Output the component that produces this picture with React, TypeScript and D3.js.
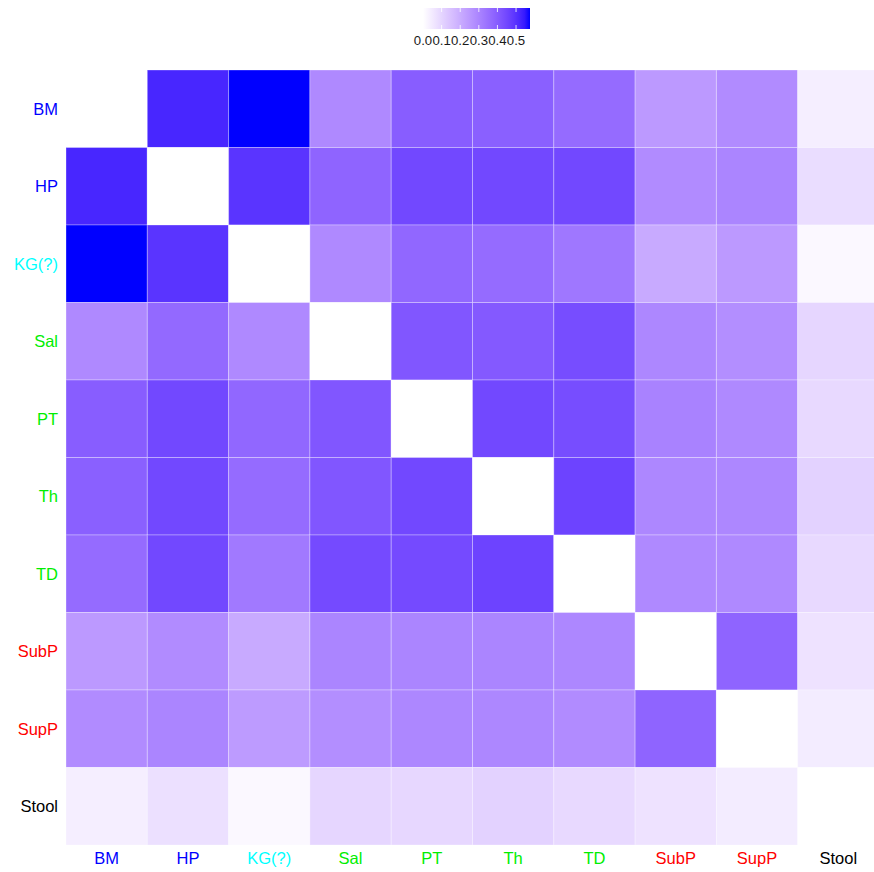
import React from "react";
import * as d3 from "d3";

// Sample groups, in row/column order
const groups = ["BM", "HP", "KG(?)", "Sal", "PT", "Th", "TD", "SubP", "SupP", "Stool"];
const groupColors = ["blue", "blue", "cyan", "#00ee00", "#00ee00", "#00ee00", "#00ee00", "red", "red", "black"];

// Pairwise similarity, one array per row (null on the diagonal)
const rowBM = [null, 0.523, 0.575, 0.288, 0.397, 0.391, 0.362, 0.247, 0.282, 0.04];
const rowHP = [0.523, null, 0.495, 0.38, 0.449, 0.449, 0.449, 0.282, 0.299, 0.081];
const rowKG = [0.575, 0.495, null, 0.288, 0.374, 0.362, 0.334, 0.207, 0.247, 0.017];
const rowSal = [0.288, 0.368, 0.288, null, 0.414, 0.408, 0.437, 0.293, 0.276, 0.098];
const rowPT = [0.397, 0.449, 0.374, 0.414, null, 0.449, 0.437, 0.305, 0.288, 0.092];
const rowTh = [0.391, 0.449, 0.362, 0.414, 0.449, null, 0.46, 0.293, 0.293, 0.109];
const rowTD = [0.362, 0.449, 0.328, 0.443, 0.443, 0.46, null, 0.288, 0.288, 0.092];
const rowSubP = [0.247, 0.282, 0.207, 0.299, 0.299, 0.299, 0.293, null, 0.38, 0.069];
const rowSupP = [0.282, 0.299, 0.242, 0.276, 0.293, 0.293, 0.282, 0.38, null, 0.046];
const rowStool = [0.04, 0.075, 0.017, 0.098, 0.095, 0.109, 0.092, 0.069, 0.046, null];
const matrix = [rowBM, rowHP, rowKG, rowSal, rowPT, rowTh, rowTD, rowSubP, rowSupP, rowStool];

const legendTicks = [0, 0.1, 0.2, 0.3, 0.4, 0.5];
const valueMax = 0.575;

const W = 874;
const H = 872;
const FONT = "'Liberation Sans', Arial, Helvetica, sans-serif";

export default function App() {
  const gridLeft = 66;
  const gridTop = 70;
  const cellW = 81.3;
  const cellH = 77.5;

  const x = d3
    .scaleBand<string>()
    .domain(groups)
    .range([gridLeft, gridLeft + cellW * groups.length])
    .padding(0);
  const y = d3
    .scaleBand<string>()
    .domain(groups)
    .range([gridTop, gridTop + cellH * groups.length])
    .padding(0);

  const color = d3
    .scaleLinear<string>()
    .domain([0, valueMax])
    .range(["#ffffff", "#0000ff"])
    .interpolate(d3.interpolateLab)
    .clamp(true);

  // colour bar
  const legX0 = 423;
  const legX1 = 530;
  const legY0 = 8;
  const legY1 = 29;
  const legScale = d3.scaleLinear().domain([0, valueMax]).range([legX0, legX1]);
  const stops = d3.range(0, 1.0001, 0.05);

  const cells: React.ReactNode[] = [];
  matrix.forEach((row, ri) => {
    row.forEach((v, ci) => {
      cells.push(
        <rect
          key={`${ri}-${ci}`}
          x={x(groups[ci])}
          y={y(groups[ri])}
          width={x.bandwidth()}
          height={y.bandwidth()}
          fill={v == null ? "#ffffff" : color(v)}
          stroke="rgba(255,255,255,0.3)"
          strokeWidth={1}
        />
      );
    });
  });

  return (
    <svg
      width={W}
      height={H}
      style={{ position: "absolute", left: 0, top: 0, display: "block" }}
      fontFamily={FONT}
    >
      <rect x={0} y={0} width={W} height={H} fill="#ffffff" />
      <defs>
        <linearGradient id="legGrad" x1="0" x2="1" y1="0" y2="0">
          {stops.map((s) => (
            <stop key={s} offset={s} stopColor={color(s * valueMax)} />
          ))}
        </linearGradient>
      </defs>

      {/* colour bar legend */}
      <rect x={legX0} y={legY0} width={legX1 - legX0} height={legY1 - legY0} fill="url(#legGrad)" />
      {legendTicks.map((t) => (
        <g key={t}>
          <line
            x1={legScale(t)}
            x2={legScale(t)}
            y1={legY0}
            y2={legY0 + 4}
            stroke="rgba(255,255,255,0.8)"
            strokeWidth={1}
          />
          <line
            x1={legScale(t)}
            x2={legScale(t)}
            y1={legY1 - 4}
            y2={legY1}
            stroke="rgba(255,255,255,0.8)"
            strokeWidth={1}
          />
          <text x={legScale(t)} y={45} textAnchor="middle" fontSize={13.2} fill="#1a1a1a">
            {t.toFixed(1)}
          </text>
        </g>
      ))}

      {/* heatmap cells */}
      <g>{cells}</g>

      {/* row labels */}
      {groups.map((g, i) => (
        <text
          key={`r-${g}`}
          x={gridLeft - 8}
          y={(y(g) as number) + y.bandwidth() / 2}
          dy="0.35em"
          textAnchor="end"
          fontSize={16.5}
          fill={groupColors[i]}
        >
          {g}
        </text>
      ))}

      {/* column labels */}
      {groups.map((g, i) => (
        <text
          key={`c-${g}`}
          x={(x(g) as number) + x.bandwidth() / 2}
          y={864}
          textAnchor="middle"
          fontSize={16.5}
          fill={groupColors[i]}
        >
          {g}
        </text>
      ))}
    </svg>
  );
}
